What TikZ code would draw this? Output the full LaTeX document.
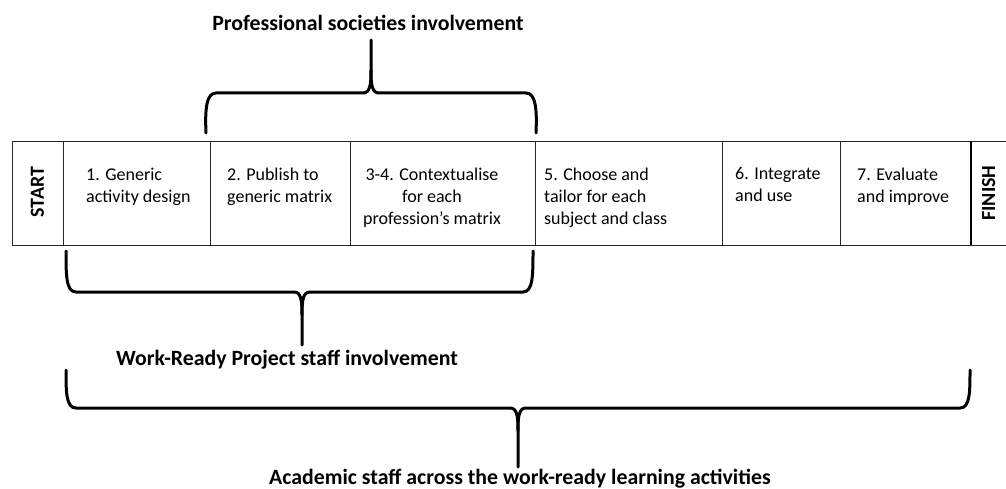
\documentclass[tikz,border=0pt]{standalone}
\usepackage{fontspec}
\setmainfont{Carlito}
\usetikzlibrary{positioning}

\tikzset{
  cell/.style={draw=black!85, line width=0.8pt, minimum height=104pt, inner sep=0pt, outer sep=0pt},
  celltext/.style={inner sep=0pt, font=\fontsize{18}{22}\selectfont, execute at begin node=\strut},
  endtext/.style={rotate=90, inner sep=0pt, font=\fontsize{20}{24}\selectfont\bfseries},
  bracelabel/.style={inner sep=0pt, font=\fontsize{21.8}{26}\selectfont\bfseries},
  curly/.style={line width=3pt, line join=round, line cap=round},
}

\begin{document}
\begin{tikzpicture}[x=1pt,y=-1pt]
\useasboundingbox (0,0) rectangle (1006,489);

% the row of stages
\node[cell, minimum width=51pt, anchor=north west] (start) at (12,141) {};
\node[cell, minimum width=147pt, right=0pt of start] (s1) {};
\node[cell, minimum width=140pt, right=0pt of s1] (s2) {};
\node[cell, minimum width=185pt, right=0pt of s2] (s34) {};
\node[cell, minimum width=187pt, right=0pt of s34] (s5) {};
\node[cell, minimum width=118pt, right=0pt of s5] (s6) {};
\node[cell, minimum width=131pt, right=0pt of s6] (s7) {};
\coordinate (finishtop) at (1006,141);
\coordinate (finishbot) at (1006,245);
\draw[draw=black!85, line width=0.8pt] (s7.north east) -- (finishtop);
\draw[draw=black!85, line width=0.8pt] (s7.south east) -- (finishbot);
\draw[line width=2.4pt] (s7.north east) -- (s7.south east);

\node[endtext] (starttext) at (37.5,192) {START};
\node[endtext] (finishtext) at (988.5,193) {FINISH};
\node[celltext, anchor=north west, align=left] (t1) at (86,167.6) {1. Generic\\activity design};
\node[celltext, anchor=north west, align=left] (t2) at (227,167.6) {2. Publish to\\generic matrix};
\node[celltext, anchor=north, align=center] (t34) at (432,167.6) {3-4. Contextualise\\for each\\profession’s matrix};
\node[celltext, anchor=north west, align=left] (t5) at (544,167.6) {5. Choose and\\tailor for each\\subject and class};
\node[celltext, anchor=north west, align=left] (t6) at (735,167.6) {6. Integrate\\and use};
\node[celltext, anchor=north west, align=left] (t7) at (857,167.6) {7. Evaluate\\and improve};

% professional societies brace
\coordinate (ptip) at (371,40);
\draw[curly] (206,133) .. controls (205,110) and (206,93) .. (216,93) -- (363,93)
  .. controls (370,93) and (371,85) .. (371,70) -- (ptip);
\draw[curly] (536,133) .. controls (537,110) and (536,93) .. (526,93) -- (379,93)
  .. controls (372,93) and (371,85) .. (371,70);
\node[bracelabel, above=9pt of ptip, anchor=base, xshift=-3pt] (plabel) {Professional societies involvement};

% project staff brace
\coordinate (wtip) at (302,345);
\draw[curly] (66,251) .. controls (66,275) and (66,292) .. (76,292) -- (294,292)
  .. controls (301,292) and (302,300) .. (302,315) -- (wtip);
\draw[curly] (533,251) .. controls (533,275) and (533,292) .. (523,292) -- (310,292)
  .. controls (303,292) and (302,300) .. (302,315);
\node[bracelabel, below=5pt of wtip, xshift=-15pt] (wlabel) {Work-Ready Project staff involvement};

% academic staff brace
\coordinate (atip) at (518,467);
\draw[curly] (66,370) .. controls (66,392) and (66,408) .. (76,408) -- (510,408)
  .. controls (517,408) and (518,416) .. (518,431) -- (atip);
\draw[curly] (970,370) .. controls (970,392) and (970,408) .. (960,408) -- (526,408)
  .. controls (519,408) and (518,416) .. (518,431);
\node[bracelabel, below=17pt of atip, anchor=base, xshift=2pt] (alabel) {Academic staff across the work-ready learning activities};
\end{tikzpicture}
\end{document}
